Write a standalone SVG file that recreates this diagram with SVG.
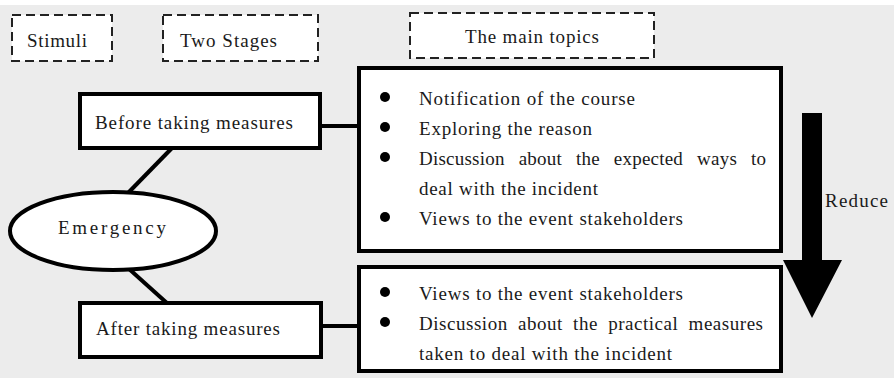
<svg xmlns="http://www.w3.org/2000/svg" width="894" height="378" viewBox="0 0 894 378">
<style>
text{font-family:"Liberation Serif","Times New Roman",Times,serif;font-size:19px;fill:#1a1a1a}
.dash{fill:#fff;stroke:#222;stroke-width:2;stroke-dasharray:9 5}
.box{fill:#fff;stroke:#000;stroke-width:4}
.con{stroke:#000;stroke-width:4;fill:none}
.bul{fill:#000}
</style>
<rect x="0" y="0" width="894" height="378" fill="#ececec"/>
<rect x="0" y="0" width="894" height="5" fill="#fff"/>
<g id="connectors">
<line class="con" x1="172" y1="148" x2="128" y2="193"/>
<line class="con" x1="128" y1="268" x2="168" y2="304"/>
<line class="con" x1="320" y1="126" x2="359" y2="126"/>
<line class="con" x1="321" y1="326" x2="359" y2="326"/>
</g>
<g id="stimuli">
<rect class="dash" x="12" y="15" width="100" height="46"/>
<text x="27" y="47" textLength="60">Stimuli</text>
</g>
<g id="two-stages">
<rect class="dash" x="163" y="15" width="155" height="46"/>
<text x="180" y="47" textLength="97">Two Stages</text>
</g>
<g id="main-topics">
<rect class="dash" x="410" y="13" width="244" height="45"/>
<text x="465" y="43" textLength="134">The main topics</text>
</g>
<g id="before">
<rect class="box" x="80" y="94" width="240" height="54"/>
<text x="95" y="129" textLength="198">Before taking measures</text>
</g>
<g id="emergency">
<ellipse cx="113" cy="231" rx="103" ry="39" fill="#fff" stroke="#000" stroke-width="4"/>
<text x="58" y="234" textLength="108">Emergency</text>
</g>
<g id="after">
<rect class="box" x="80" y="303" width="241" height="54"/>
<text x="96" y="335" textLength="184">After taking measures</text>
</g>
<g id="topics-before">
<rect class="box" x="359" y="68" width="422" height="183"/>
<circle class="bul" cx="385" cy="97" r="5"/>
<circle class="bul" cx="385" cy="127" r="5"/>
<circle class="bul" cx="385" cy="157" r="5"/>
<circle class="bul" cx="385" cy="217" r="5"/>
<text x="419" y="105" textLength="216">Notification of the course</text>
<text x="419" y="135" textLength="173">Exploring the reason</text>
<text x="419" y="165" textLength="347" word-spacing="9">Discussion about the expected ways to</text>
<text x="419" y="195" textLength="179">deal with the incident</text>
<text x="419" y="225" textLength="264">Views to the event stakeholders</text>
</g>
<g id="topics-after">
<rect class="box" x="359" y="267" width="422" height="104"/>
<circle class="bul" cx="385" cy="292" r="5"/>
<circle class="bul" cx="385" cy="322" r="5"/>
<text x="419" y="300" textLength="264">Views to the event stakeholders</text>
<text x="419" y="330" textLength="344" word-spacing="5">Discussion about the practical measures</text>
<text x="419" y="360" textLength="253">taken to deal with the incident</text>
</g>
<g id="reduce-arrow">
<polygon points="802,113 822,113 822,260 842,260 812,318 783,260 802,260" fill="#000"/>
<text x="825" y="207" textLength="63">Reduce</text>
</g>
</svg>
